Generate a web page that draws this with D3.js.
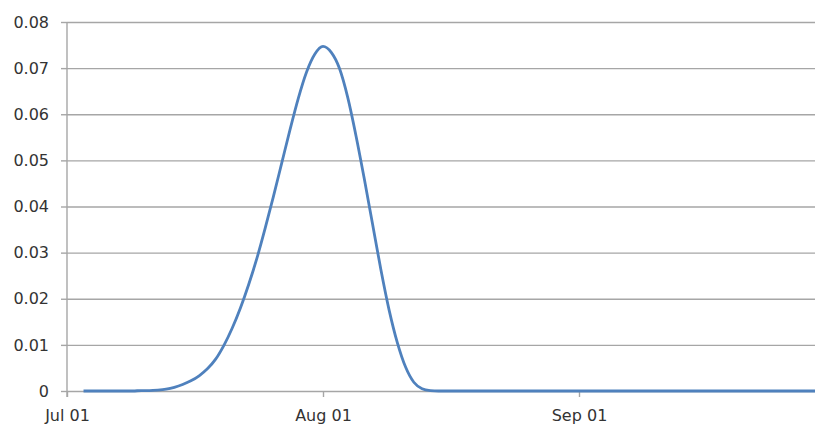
<!DOCTYPE html>
<html>
<head>
<meta charset="utf-8">
<script src="https://cdn.jsdelivr.net/npm/d3@7"></script>
<style>
  html, body { margin: 0; padding: 0; background: #ffffff; overflow: hidden; }
  svg { display: block; }
  text { font-family: "DejaVu Sans", sans-serif; font-size: 16px; fill: #333333; }
</style>
</head>
<body>
<svg id="chart" width="815" height="425"></svg>
<script>
// Daily series, starting on 3 July
const seriesStart = "2013-07-03";
const dailyValues = [
  0, 0, 0, 0, 0, 0, 0,
  0.0001, 0.0001, 0.0002, 0.0004, 0.0008, 0.0014, 0.0022, 0.0033, 0.0048, 0.0069,
  0.0099, 0.0136, 0.0180, 0.0231, 0.0288, 0.0353, 0.0422, 0.0494, 0.0566, 0.0634,
  0.0691, 0.0730, 0.0747, 0.0734, 0.0699, 0.0636, 0.0553, 0.0460, 0.0362, 0.0264,
  0.0176, 0.0105, 0.0052, 0.0019, 0.0005, 0.0001,
  0, 0, 0, 0, 0, 0, 0, 0, 0, 0, 0, 0, 0, 0, 0, 0,
  0, 0, 0, 0, 0, 0, 0, 0, 0, 0, 0, 0, 0, 0, 0, 0,
  0, 0, 0, 0, 0, 0, 0, 0, 0, 0, 0, 0, 0, 0, 0
];

// Axis settings
const xDomain = ["2013-07-01", "2013-09-30"];
const xTickDates = ["2013-07-01", "2013-08-01", "2013-09-01"];
const yTicks = [0, 0.01, 0.02, 0.03, 0.04, 0.05, 0.06, 0.07, 0.08];

const parse = d3.utcParse("%Y-%m-%d");
const start = parse(seriesStart);
const data = dailyValues.map((v, i) => ({ date: d3.utcDay.offset(start, i), value: v }));

const svg = d3.select("#chart");
const plotLeft = 67, plotTop = 22, plotBottom = 391, plotRight = 815;
const dayWidth = 256 / 31;

const x = d3.scaleUtc()
  .domain(xDomain.map(parse))
  .range([plotLeft, plotLeft + 91 * dayWidth]);

const y = d3.scaleLinear()
  .domain([0, 0.08])
  .range([plotBottom, plotTop]);

const gridColor = "#a6a6a6";

// Horizontal gridlines with left tick marks
const yAxis = d3.axisLeft(y)
  .tickValues(yTicks)
  .tickSize(6)
  .tickPadding(12)
  .tickFormat(d => d === 0 ? "0" : d3.format(".2f")(d));

const gy = svg.append("g").attr("transform", `translate(${plotLeft},0)`).call(yAxis);
gy.select(".domain").remove();
gy.selectAll(".tick line").attr("stroke", gridColor).attr("stroke-width", 1.4);
gy.selectAll(".tick").append("line")
  .attr("x1", 0).attr("x2", plotRight - plotLeft)
  .attr("stroke", gridColor).attr("stroke-width", 1.4);
gy.selectAll(".tick text")
  .attr("font-family", "DejaVu Sans, sans-serif")
  .attr("font-size", 16)
  .attr("fill", "#333333");

// Vertical axis line
svg.append("line")
  .attr("x1", plotLeft).attr("x2", plotLeft)
  .attr("y1", plotTop).attr("y2", plotBottom + 6)
  .attr("stroke", gridColor).attr("stroke-width", 1.4);

// Bottom axis with month ticks
const xAxis = d3.axisBottom(x)
  .tickValues(xTickDates.map(parse))
  .tickSize(6)
  .tickPadding(14)
  .tickFormat(d3.utcFormat("%b %d"));

const gx = svg.append("g").attr("transform", `translate(0,${plotBottom})`).call(xAxis);
gx.select(".domain").remove();
gx.selectAll(".tick line").attr("stroke", gridColor).attr("stroke-width", 1.4);
gx.selectAll(".tick text")
  .attr("dy", null)
  .attr("y", 30)
  .attr("font-family", "DejaVu Sans, sans-serif")
  .attr("font-size", 15.5)
  .attr("fill", "#333333");

// Series line
const line = d3.line()
  .x(d => x(d.date))
  .y(d => y(d.value))
  .curve(d3.curveMonotoneX);

svg.append("path")
  .datum(data)
  .attr("fill", "none")
  .attr("stroke", "#4f81bd")
  .attr("stroke-width", 2.8)
  .attr("stroke-linejoin", "round")
  .attr("d", line);
</script>
</body>
</html>
